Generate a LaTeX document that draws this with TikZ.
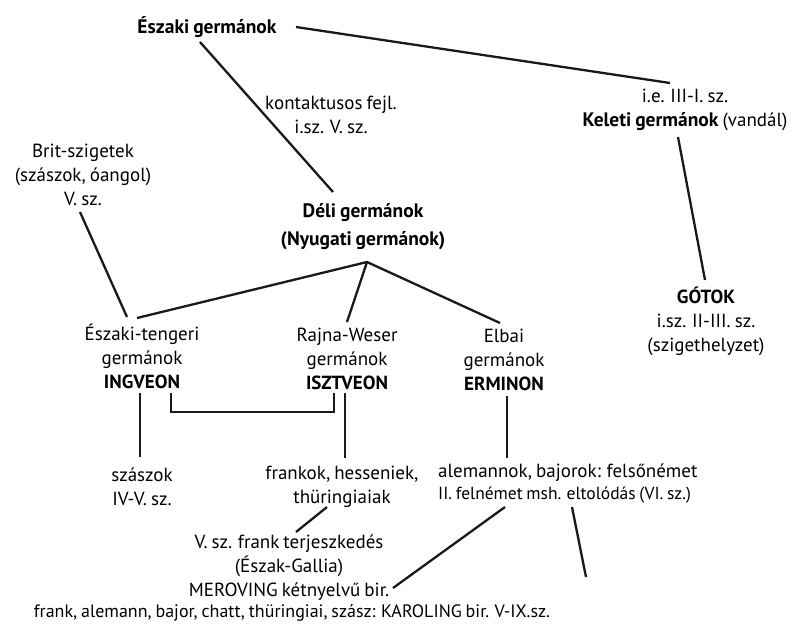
\documentclass[tikz,border=0pt]{standalone}
\usepackage{fontspec}
\setmainfont{PT Sans}[WordSpace=0.8]
\begin{document}
\begin{tikzpicture}[x=1pt,y=-1pt,
  txt/.style={align=center,inner sep=0pt,font=\fontsize{19}{24}\selectfont},
  ln/.style={line width=2.3pt,black!90}]
\useasboundingbox (0,0) rectangle (799,625);
% text nodes
\node[txt,font=\fontsize{19.5}{24}\selectfont\bfseries] (nord) at (207,27) {Északi germánok};
\node[txt] (kont) at (331,115) {kontaktusos fejl.\\i.sz. V. sz.};
\node[txt] (kel) at (685,110) {i.e. III-I. sz.\\{\fontsize{19.5}{24}\selectfont\bfseries Keleti germánok} (vandál)};
\node[txt] (brit) at (83,175) {Brit-szigetek\\(szászok, óangol)\\V. sz.};
\node[txt,font=\fontsize{19.5}{28}\selectfont\bfseries] (deli) at (363,227) {Déli germánok\\(Nyugati germánok)};
\node[txt] (got) at (706,321) {\textbf{GÓTOK}\\i.sz. II-III. sz.\\(szigethelyzet)};
\node[txt] (ing) at (142,356) {Északi-tengeri\\germánok\\\textbf{INGVEON}};
\node[txt] (isz) at (347,359) {Rajna-Weser\\germánok\\\textbf{ISZTVEON}};
\node[txt] (erm) at (504,360) {Elbai\\germánok\\\textbf{ERMINON}};
\node[txt] (szasz) at (142,487) {szászok\\IV-V. sz.};
\node[txt] (frank) at (342,487) {frankok, hesseniek,\\thüringiaiak};
\node[txt,align=left,anchor=west,font=\fontsize{19}{22}\selectfont] (alem) at (438,484) {alemannok, bajorok: felsőnémet\\{\fontsize{17.5}{22}\selectfont II. felnémet msh. eltolódás (VI. sz.)}};
\node[txt] (mero) at (289,568) {V. sz. frank terjeszkedés\\(Észak-Gallia)\\MEROVING kétnyelvű bir.};
\node[txt,font=\fontsize{18}{24}\selectfont] (karo) at (292,613) {frank, alemann, bajor, chatt, thüringiai, szász: KAROLING bir. V-IX.sz.};
% connector end points
\coordinate (nordE) at (296,27);
\coordinate (kelN) at (670,83);
\coordinate (nordS) at (200,42);
\coordinate (deliN) at (333,192);
\coordinate (kelS) at (678,137);
\coordinate (gotN) at (705,280);
\coordinate (britS) at (80,212);
\coordinate (ingN) at (127,317);
\coordinate (apex) at (367,262);
\coordinate (ingNE) at (137,318);
\coordinate (iszN) at (347,322);
\coordinate (ermN) at (500,323);
\coordinate (ingSE) at (171,393);
\coordinate (iszSW) at (334,393);
\coordinate (ingS) at (140,393);
\coordinate (szaszN) at (140,457);
\coordinate (iszS) at (345,393);
\coordinate (frankN) at (345,458);
\coordinate (ermS) at (507,396);
\coordinate (alemN) at (507,458);
\coordinate (frankS) at (327,507);
\coordinate (meroN) at (296,532);
\coordinate (alemSW) at (505,507);
\coordinate (meroE) at (393,588);
\coordinate (alemS) at (572,507);
\coordinate (free) at (586,577);
% connectors
\draw[ln] (nordE) -- (kelN);
\draw[ln] (nordS) -- (deliN);
\draw[ln] (kelS) -- (gotN);
\draw[ln] (britS) -- (ingN);
\draw[ln] (ingNE) -- (apex) -- (ermN);
\draw[ln] (apex) -- (iszN);
\draw[ln] (ingSE) -- ++(0,19) -| (iszSW);
\draw[ln] (ingS) -- (szaszN);
\draw[ln] (iszS) -- (frankN);
\draw[ln] (ermS) -- (alemN);
\draw[ln] (frankS) -- (meroN);
\draw[ln] (alemSW) -- (meroE);
\draw[ln] (alemS) -- (free);
\end{tikzpicture}
\end{document}
